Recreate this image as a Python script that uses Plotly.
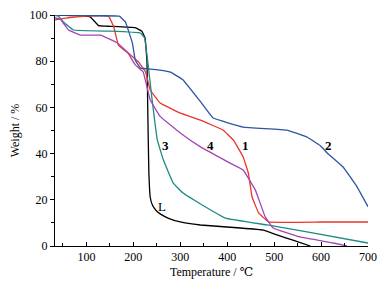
import plotly.graph_objects as go

# Curve L (black)
L_x = [30, 90, 108, 126, 150, 204, 218, 225, 229, 231, 233, 236, 241, 248, 258, 275, 300, 343, 428, 477, 506, 540, 577]
L_y = [100, 99.6, 99.2, 95.4, 95.1, 94.5, 93.0, 90, 80, 55, 32, 21, 17.5, 15.5, 13.8, 12, 10.4, 9.1, 7.8, 6.9, 4.8, 2.5, 0]

# Curve 1 (red)
r_x = [30, 60, 100, 147, 158, 168, 194, 211, 226, 236, 257, 300, 343, 391, 413, 434, 445, 453, 467, 488, 600, 700]
r_y = [97.8, 98.8, 99.5, 99.5, 95, 87, 82.7, 79.7, 75.3, 67.5, 61.9, 57.5, 54.5, 50.2, 45.9, 38.5, 31.6, 21.2, 14.3, 10.4, 10.4, 10.4]

# Curve 2 (blue)
b_x = [30, 100, 170, 183, 198, 204, 215, 243, 279, 306, 343, 370, 434, 527, 570, 598, 613, 647, 677, 700]
b_y = [100, 99.8, 99.5, 97, 87.8, 80.5, 77, 76.5, 75.3, 71.9, 62.5, 55.4, 51.5, 50.2, 47.2, 43.5, 40.3, 34.2, 25.5, 17]

# Curve 3 (teal)
t_x = [30, 40, 51, 72, 150, 215, 224, 232, 240, 251, 264, 285, 306, 343, 396, 485, 570, 700]
t_y = [100, 99.5, 97, 93.5, 93, 92.2, 90, 77.5, 63.2, 45.9, 37.2, 27.2, 22.9, 18.2, 12.1, 9.1, 6.1, 1.3]

# Curve 4 (purple)
p_x = [30, 45, 62, 87, 130, 166, 187, 204, 221, 236, 257, 300, 343, 406, 434, 460, 481, 498, 555, 626, 655]
p_y = [99, 98, 93.5, 91.3, 91.3, 87.9, 84, 78.4, 75.3, 63.2, 56.1, 48.9, 42.9, 35.9, 32.9, 24.2, 12.6, 7.8, 3.9, 1.3, 0]

labels = ["L", "3", "4", "1", "2"]
label_x = [262, 268, 364, 438, 615]
label_y = [17.3, 43.7, 43.7, 43.7, 43.7]

SERIF = "Liberation Serif, Times New Roman, DejaVu Serif, serif"

fig = go.Figure()
series = [
    (L_x, L_y, "#000000"),
    (r_x, r_y, "#e8352d"),
    (b_x, b_y, "#2e55a3"),
    (t_x, t_y, "#1f8a82"),
    (p_x, p_y, "#a346b5"),
]
for xs, ys, c in series:
    fig.add_trace(go.Scatter(x=xs, y=ys, mode="lines",
                             line=dict(color=c, width=1.3, shape="spline", smoothing=0.2),
                             showlegend=False, hoverinfo="skip"))

for t, x, y in zip(labels, label_x, label_y):
    fig.add_annotation(x=x, y=y, text=t if t == "L" else "<b>%s</b>" % t, showarrow=False,
                       font=dict(family=SERIF, size=13, color="black"))

# page body adds an 8px margin, so the figure is sized to fit the 386x289 window
fig.update_layout(
    width=378, height=281,
    margin=dict(l=47, r=18, t=7, b=43, autoexpand=False),
    paper_bgcolor="white", plot_bgcolor="white",
    font=dict(family=SERIF, size=12, color="black"),
    xaxis=dict(range=[33, 700], tickvals=[100, 200, 300, 400, 500, 600, 700],
               showgrid=False, zeroline=False, showline=True, linecolor="black", linewidth=1,
               ticks="inside", ticklen=4, tickcolor="black", automargin=False,
               minor=dict(tickvals=[50, 150, 250, 350, 450, 550, 650], ticks="inside", ticklen=3, tickcolor="black"),
               title=dict(text="Temperature / ℃", standoff=4, font=dict(family=SERIF, size=12))),
    yaxis=dict(range=[0, 100], tickvals=[0, 20, 40, 60, 80, 100],
               showgrid=False, zeroline=False, showline=True, linecolor="black", linewidth=1,
               ticks="outside", ticklen=4, tickcolor="black", automargin=False,
               minor=dict(tickvals=[10, 30, 50, 70, 90], ticks="outside", ticklen=3, tickcolor="black"),
               title=dict(text="Weight / %", standoff=7, font=dict(family=SERIF, size=12))),
)
fig.write_html("out.html")
